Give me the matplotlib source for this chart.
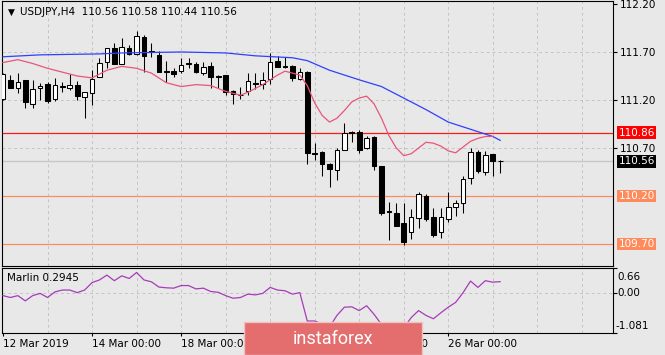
import matplotlib
matplotlib.use("Agg")
import matplotlib.pyplot as plt
from matplotlib.patches import Rectangle
import numpy as np

# USDJPY H4 candles, first bar 12 Mar 2019 00:00
opens = [111.21, 111.41, 111.33, 111.41, 111.16, 111.33, 111.37, 111.21, 111.35, 111.33,
         111.36, 111.23, 111.27, 111.44, 111.60, 111.74, 111.58, 111.74, 111.68, 111.86,
         111.71, 111.67, 111.50, 111.50, 111.50, 111.58, 111.58, 111.48, 111.55, 111.45,
         111.46, 111.29, 111.25, 111.29, 111.38, 111.37, 111.42, 111.61, 111.55, 111.55,
         111.42, 111.49, 110.65, 110.66, 110.53, 110.47, 110.68, 110.87, 110.87, 110.70,
         110.81, 110.51, 110.04, 110.02, 109.92, 109.83, 109.97, 110.20, 109.98, 109.82,
         109.96, 110.09, 110.13, 110.39, 110.66, 110.45, 110.64, 110.56]
highs = [111.48, 111.46, 111.48, 111.41, 111.41, 111.38, 111.39, 111.43, 111.39, 111.47,
         111.40, 111.28, 111.51, 111.64, 111.74, 111.79, 111.85, 111.77, 111.92, 111.88,
         111.79, 111.71, 111.61, 111.53, 111.64, 111.64, 111.60, 111.60, 111.60, 111.46,
         111.46, 111.30, 111.34, 111.48, 111.48, 111.49, 111.69, 111.66, 111.65, 111.56,
         111.53, 111.50, 110.75, 110.67, 110.54, 110.70, 110.96, 110.88, 110.89, 110.83,
         110.82, 110.51, 110.14, 110.13, 110.13, 110.06, 110.24, 110.22, 110.08, 110.08,
         110.24, 110.16, 110.41, 110.70, 110.68, 110.67, 110.64, 110.58]
lows = [111.20, 111.32, 111.27, 111.12, 111.12, 111.20, 111.17, 111.19, 111.28, 111.30,
        111.20, 111.01, 111.15, 111.44, 111.53, 111.57, 111.57, 111.67, 111.67, 111.49,
        111.65, 111.49, 111.39, 111.44, 111.48, 111.53, 111.48, 111.46, 111.33, 111.33,
        111.25, 111.16, 111.21, 111.25, 111.31, 111.31, 111.37, 111.54, 111.53, 111.40,
        111.41, 110.53, 110.57, 110.41, 110.29, 110.37, 110.68, 110.76, 110.65, 110.69,
        110.47, 110.00, 109.74, 109.89, 109.69, 109.75, 109.87, 109.94, 109.77, 109.76,
        109.93, 109.99, 110.02, 110.32, 110.44, 110.42, 110.41, 110.44]
closes = [111.47, 111.33, 111.39, 111.18, 111.31, 111.35, 111.19, 111.36, 111.34, 111.36,
          111.24, 111.28, 111.42, 111.59, 111.74, 111.57, 111.75, 111.68, 111.87, 111.66,
          111.70, 111.49, 111.49, 111.47, 111.56, 111.59, 111.49, 111.54, 111.44, 111.44,
          111.28, 111.26, 111.25, 111.40, 111.37, 111.41, 111.60, 111.54, 111.54, 111.43,
          111.49, 110.65, 110.64, 110.53, 110.48, 110.68, 110.86, 110.86, 110.68, 110.80,
          110.51, 110.02, 110.03, 109.89, 109.72, 109.98, 110.22, 109.96, 109.79, 109.98,
          110.09, 110.13, 110.38, 110.66, 110.46, 110.63, 110.56, 110.56]

# moving averages (bar index, price)
blue_bars = [0, 5, 13, 16, 24, 30, 34, 39, 41, 44, 48, 51, 54, 57, 60, 62, 64, 66, 67]
blue_ma = [111.65, 111.67, 111.68, 111.69, 111.70, 111.69, 111.66, 111.64, 111.61, 111.51,
           111.41, 111.34, 111.22, 111.10, 110.97, 110.92, 110.87, 110.82, 110.78]
red_bars = [0, 2, 4, 6, 8, 10, 12, 13, 14, 16, 18, 20, 22, 24, 26, 28, 30, 32, 33, 35,
            37, 38, 40, 41, 42, 43, 44, 45, 46, 47, 48, 49, 50, 51, 52, 53, 54, 55, 56, 57,
            58, 59, 60, 61, 62, 63, 64, 65, 66]
red_ma = [111.59, 111.62, 111.58, 111.53, 111.49, 111.45, 111.43, 111.47, 111.51, 111.55,
          111.53, 111.48, 111.38, 111.34, 111.36, 111.35, 111.29, 111.25, 111.28, 111.36,
          111.46, 111.50, 111.46, 111.35, 111.17, 111.04, 110.97, 111.01, 111.09, 111.18,
          111.22, 111.24, 111.16, 111.01, 110.83, 110.70, 110.62, 110.64, 110.70, 110.76,
          110.75, 110.72, 110.67, 110.65, 110.71, 110.77, 110.80, 110.82, 110.82]

marlin = [-0.08, -0.13, -0.08, -0.22, -0.08, -0.02, -0.13, 0.02, 0.07, 0.07,
          0.00, 0.07, 0.27, 0.34, 0.47, 0.32, 0.45, 0.38, 0.54, 0.34,
          0.29, 0.15, 0.13, 0.12, 0.19, 0.19, 0.10, 0.12, 0.03, 0.01,
          -0.08, -0.15, -0.13, -0.04, -0.06, -0.02, 0.14, 0.07, 0.05, -0.04,
          0.00, -0.76, -0.76, -0.84, -0.92, -0.61, -0.39, -0.38, -0.48, -0.35,
          -0.58, -0.85, -1.081, -1.05, -0.95, -0.67, -0.48, -0.61, -0.70, -0.54,
          -0.39, -0.26, 0.00, 0.31, 0.14, 0.32, 0.28, 0.2945]

level_red = 110.86
level_bid = 110.56
levels_orange = [110.20, 109.70]
price_ticks = [110.70, 111.20, 111.70, 112.20]
date_bars = [0, 12, 24, 36, 48, 60]
date_labels = ["12 Mar 2019", "14 Mar 00:00", "18 Mar 00:00", "20 Mar 00:00",
               "22 Mar 00:00", "26 Mar 00:00"]

W, H = 665, 355
bg = "#e8e8e8"
plt.rcParams["font.family"] = ["DejaVu Sans"]
fig = plt.figure(figsize=(W / 100, H / 100), dpi=100, facecolor=bg)

ax = fig.add_axes([2 / W, 1 - 266 / H, 611 / W, 265 / H], facecolor=bg)
ax2 = fig.add_axes([2 / W, 1 - 333 / H, 611 / W, 65 / H], facecolor=bg)

xmin, xmax = -0.135, 82.2
grid_kw = dict(color="#c4c4c4", lw=0.7, ls=(0, (3, 3)), zorder=1)

# --- main price panel ---
ax.set_xlim(xmin, xmax)
ax.set_ylim(109.471, 112.231)
for gx in range(6, 83, 6):
    ax.axvline(gx, **grid_kw)
for gy in price_ticks[:-1] + levels_orange:
    ax.axhline(gy, **grid_kw)

ax.axhline(level_bid, color="#c8c8c8", lw=1.0, zorder=2)
ax.axhline(level_red, color="#ff1a1a", lw=0.9, zorder=2)
for lv in levels_orange:
    ax.axhline(lv, color="#ff8a5c", lw=0.9, zorder=2)

ax.plot(blue_bars, blue_ma, color="#3040ff", lw=0.9, zorder=5)
ax.plot(red_bars, red_ma, color="#e8557a", lw=0.9, zorder=5)

x = np.arange(len(opens))
o, h, l, c = (np.array(v) for v in (opens, highs, lows, closes))
ax.vlines(x, l, h, color="black", lw=0.75, zorder=3)
up = c >= o
body_lo = np.minimum(o, c)
body_h = np.maximum(np.abs(c - o), 0.003)
ax.bar(x, body_h, bottom=body_lo, width=0.62,
       color=np.where(up, "white", "black"), edgecolor="black", lw=0.75, zorder=4)

ax.yaxis.tick_right()
ax.set_yticks(price_ticks)
ax.set_yticklabels([f"{v:.2f}" for v in price_ticks])
ax.tick_params(axis="y", length=3, width=0.8, labelsize=7.5, pad=2, colors="black")
ax.set_xticks([])
for sp in ax.spines.values():
    sp.set_linewidth(0.8)

tag_kw = dict(fontsize=7.5, color="white", va="center", ha="left",
              transform=ax.get_yaxis_transform(), clip_on=False, zorder=6)
ax.text(1.009, level_red, f"{level_red:.2f}",
        bbox=dict(boxstyle="square,pad=0.12", fc="#ff0000", ec="none"), **tag_kw)
ax.text(1.009, level_bid, f"{level_bid:.2f}",
        bbox=dict(boxstyle="square,pad=0.12", fc="black", ec="none"), **tag_kw)
for lv in levels_orange:
    ax.text(1.009, lv, f"{lv:.2f}",
            bbox=dict(boxstyle="square,pad=0.12", fc="#ff8a5c", ec="none"), **tag_kw)

fig.text(8 / W, 1 - 12 / H, "\u25bc", fontsize=6.5, va="center", ha="left")
fig.text(20 / W, 1 - 12 / H,
         "USDJPY,H4  {:.2f} {:.2f} {:.2f} {:.2f}".format(opens[-1], highs[-1], lows[-1], closes[-1]),
         fontsize=7.5, va="center", ha="left")

# --- Marlin indicator panel ---
ax2.set_xlim(xmin, xmax)
ax2.set_ylim(-1.081, 0.66)
for gx in range(6, 83, 6):
    ax2.axvline(gx, **grid_kw)
ax2.axhline(0, **grid_kw)
ax2.plot(np.arange(len(marlin)), marlin, color="#a63cb8", lw=0.9, zorder=4)
ax2.yaxis.tick_right()
ax2.set_yticks([0.66, 0.0, -1.081])
ax2.set_yticklabels([])
ax2.tick_params(axis="y", length=3, width=0.8)
ax2.set_xticks(date_bars)
ax2.set_xticklabels(date_labels, ha="left", fontsize=7.5)
ax2.tick_params(axis="x", length=2.5, width=0.8, pad=1.5)
for sp in ax2.spines.values():
    sp.set_linewidth(0.8)

ax2.text(0.008, 0.85, "Marlin {:.4f}".format(marlin[-1]), transform=ax2.transAxes,
         fontsize=7.5, va="center", ha="left")
fig.text(617 / W, 1 - 277 / H, "0.66", fontsize=7.5, va="center", ha="left")
fig.text(617 / W, 1 - 293 / H, "0.00", fontsize=7.5, va="center", ha="left")
fig.text(615 / W, 1 - 326 / H, "-1.081", fontsize=7.5, va="center", ha="left")

# instaforex badge
fig.add_artist(Rectangle((244 / W, 0), 178 / W, 33 / H, transform=fig.transFigure,
                         fc="#e46d6d", ec="#f2c0c0", lw=1.0, zorder=10))
fig.text(333 / W, 1 - 339 / H, "instaforex", color="white", fontsize=13,
         family="Roboto", ha="center", va="center", zorder=11)

fig.savefig("out.png", dpi=100, facecolor=bg)
